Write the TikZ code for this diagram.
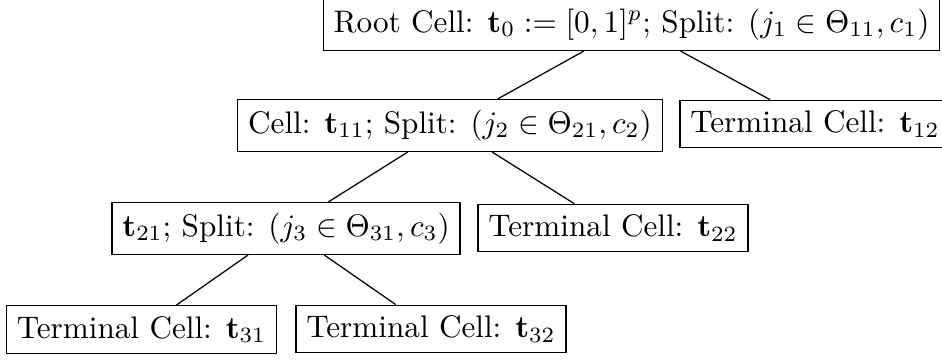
\documentclass[tikz,border=0pt]{standalone}
\usepackage{amsmath}
\begin{document}
\begin{tikzpicture}[x=0.3206pt,y=-0.3206pt,
  cell/.style={draw, inner sep=0.3333em, line width=0.4pt},
  link/.style={line width=0.4pt}]
\clip (0,0) rectangle (942,360);
\fill[white] (0,0) rectangle (942,360);
\node[cell] (r) at (631.5,24.5) {Root Cell: $\mathbf{t}_0 := [0,1]^p$; Split: $(j_1 \in \Theta_{11}, c_1)$};
\node[cell] (c11) at (450,125.5) {Cell: $\mathbf{t}_{11}$; Split: $(j_2 \in \Theta_{21}, c_2)$};
\node[cell] (c12) at (815,124) {Terminal Cell: $\mathbf{t}_{12}$};
\node[cell] (c21) at (286,228.5) {$\mathbf{t}_{21}$; Split: $(j_3 \in \Theta_{31}, c_3)$};
\node[cell] (c22) at (613,228) {Terminal Cell: $\mathbf{t}_{22}$};
\node[cell] (c31) at (141.5,329.5) {Terminal Cell: $\mathbf{t}_{31}$};
\node[cell] (c32) at (431,329) {Terminal Cell: $\mathbf{t}_{32}$};
\draw[link] (r) -- (c11);
\draw[link] (r) -- (c12);
\draw[link] (c11) -- (c21);
\draw[link] (c11) -- (c22);
\draw[link] (c21) -- (c31);
\draw[link] (c21) -- (c32);
\end{tikzpicture}
\end{document}
